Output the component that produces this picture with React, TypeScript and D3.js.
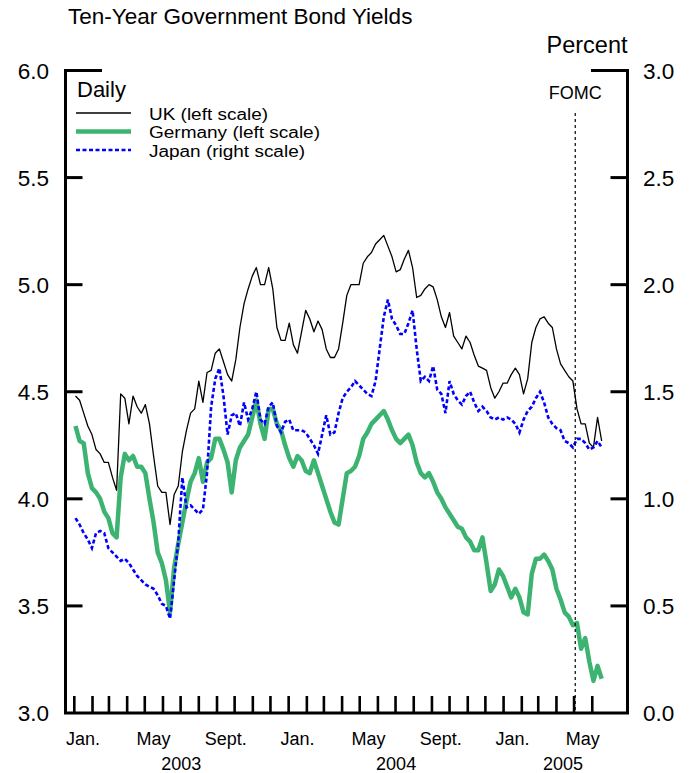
import React from "react";
import * as d3 from "d3";

// Weekly observations (Fridays) from 3 Jan 2003 to 17 Jun 2005
const weeks: Date[] = d3.timeFriday.range(new Date(2003, 0, 3), new Date(2005, 5, 18));

// UK ten-year yield (left scale, percent)
const ukValues = [
  4.48, 4.46, 4.40, 4.34, 4.30, 4.23, 4.21, 4.17, 4.17, 4.10,
  4.04, 4.49, 4.47, 4.35, 4.48, 4.43, 4.40, 4.44, 4.35, 4.20,
  4.06, 4.03, 4.03, 3.88, 4.02, 4.06, 4.22, 4.32, 4.40, 4.42,
  4.55, 4.45, 4.59, 4.60, 4.68, 4.70, 4.64, 4.58, 4.55, 4.65,
  4.80, 4.91, 4.98, 5.04, 5.08, 5.00, 5.00, 5.08, 4.98, 4.80,
  4.74, 4.74, 4.82, 4.72, 4.68, 4.78, 4.88, 4.84, 4.78, 4.83,
  4.79, 4.70, 4.66, 4.66, 4.70, 4.82, 4.95, 5.00, 5.00, 5.00,
  5.10, 5.13, 5.15, 5.19, 5.21, 5.23, 5.18, 5.13, 5.06, 5.07,
  5.12, 5.16, 5.08, 4.94, 4.95, 4.98, 5.00, 4.99, 4.93, 4.85,
  4.80, 4.87, 4.76, 4.73, 4.70, 4.76, 4.73, 4.67, 4.62, 4.61,
  4.60, 4.52, 4.47, 4.50, 4.54, 4.54, 4.58, 4.61, 4.58, 4.49,
  4.56, 4.73, 4.80, 4.84, 4.85, 4.82, 4.80, 4.70, 4.63, 4.60,
  4.57, 4.55, 4.42, 4.35, 4.35, 4.26, 4.24, 4.38, 4.27,
];

// Germany ten-year yield (left scale, percent)
const germanyValues = [
  4.34, 4.27, 4.26, 4.12, 4.05, 4.03, 4.00, 3.94, 3.91, 3.84,
  3.82, 4.10, 4.21, 4.18, 4.20, 4.15, 4.15, 4.12, 4.00, 3.89,
  3.75, 3.70, 3.62, 3.47, 3.68, 3.79, 3.89, 3.99, 4.08, 4.12,
  4.19, 4.08, 4.17, 4.19, 4.28, 4.28, 4.23, 4.17, 4.03, 4.18,
  4.24, 4.27, 4.30, 4.38, 4.46, 4.35, 4.28, 4.42, 4.42, 4.35,
  4.32, 4.25, 4.19, 4.15, 4.20, 4.18, 4.13, 4.12, 4.18, 4.12,
  4.06, 4.00, 3.94, 3.89, 3.88, 4.00, 4.12, 4.13, 4.15, 4.20,
  4.28, 4.31, 4.35, 4.37, 4.39, 4.41, 4.37, 4.32, 4.28, 4.26,
  4.28, 4.30, 4.25, 4.17, 4.12, 4.10, 4.12, 4.08, 4.03, 4.00,
  3.96, 3.93, 3.90, 3.87, 3.86, 3.82, 3.80, 3.76, 3.76, 3.82,
  3.70, 3.57, 3.60, 3.67, 3.64, 3.59, 3.54, 3.58, 3.54, 3.47,
  3.46, 3.65, 3.72, 3.72, 3.74, 3.71, 3.67, 3.58, 3.53, 3.47,
  3.45, 3.41, 3.42, 3.30, 3.35, 3.24, 3.15, 3.22, 3.16,
];

// Japan ten-year yield (right scale, percent)
const japanValues = [
  0.91, 0.88, 0.84, 0.81, 0.77, 0.84, 0.85, 0.84, 0.77, 0.75,
  0.73, 0.71, 0.72, 0.70, 0.67, 0.64, 0.62, 0.60, 0.59, 0.58,
  0.55, 0.51, 0.50, 0.44, 0.62, 0.80, 1.10, 0.96, 0.97, 0.95,
  0.93, 0.95, 1.12, 1.43, 1.56, 1.61, 1.48, 1.30, 1.39, 1.40,
  1.34, 1.45, 1.37, 1.42, 1.50, 1.37, 1.35, 1.43, 1.45, 1.34,
  1.31, 1.36, 1.37, 1.32, 1.32, 1.32, 1.31, 1.28, 1.25, 1.21,
  1.30, 1.39, 1.30, 1.31, 1.40, 1.47, 1.50, 1.52, 1.55, 1.53,
  1.51, 1.49, 1.48, 1.55, 1.70, 1.85, 1.93, 1.84, 1.81, 1.77,
  1.77, 1.82, 1.88, 1.70, 1.55, 1.57, 1.55, 1.62, 1.51, 1.49,
  1.40, 1.55, 1.49, 1.46, 1.44, 1.48, 1.50, 1.45, 1.41, 1.43,
  1.41, 1.38, 1.37, 1.38, 1.37, 1.38, 1.37, 1.35, 1.31, 1.37,
  1.41, 1.43, 1.47, 1.50, 1.45, 1.38, 1.35, 1.33, 1.32, 1.27,
  1.26, 1.24, 1.28, 1.28, 1.26, 1.23, 1.24, 1.27, 1.24,
];

const leftTicks = [3.0, 3.5, 4.0, 4.5, 5.0, 5.5, 6.0];
const rightTicks = [0.0, 0.5, 1.0, 1.5, 2.0, 2.5, 3.0];
const monthLabels = [
  { date: new Date(2003, 0, 16), label: "Jan." },
  { date: new Date(2003, 4, 16), label: "May" },
  { date: new Date(2003, 8, 16), label: "Sept." },
  { date: new Date(2004, 0, 16), label: "Jan." },
  { date: new Date(2004, 4, 16), label: "May" },
  { date: new Date(2004, 8, 16), label: "Sept." },
  { date: new Date(2005, 0, 16), label: "Jan." },
  { date: new Date(2005, 4, 16), label: "May" },
];
const yearLabels = [
  { date: new Date(2003, 6, 2), label: "2003" },
  { date: new Date(2004, 6, 2), label: "2004" },
  { date: new Date(2005, 3, 12), label: "2005" },
];
const legendItems = [
  { label: "UK (left scale)", color: "#000", width: 1.3, dash: "", textLen: 119 },
  { label: "Germany (left scale)", color: "#3cb371", width: 4.5, dash: "", textLen: 171 },
  { label: "Japan (right scale)", color: "#0000ff", width: 2.6, dash: "4,2.5", textLen: 156 },
];
const fomcDate = new Date(2005, 4, 3);

const FONT = "'Liberation Sans', Arial, Helvetica, sans-serif";
const GREEN = "#3cb371";
const BLUE = "#0000ff";

export default function App() {
  const W = 694;
  const H = 773;
  const left = 65.5;
  const right = 627.5;
  const top = 70.5;
  const bottom = 713;

  const x = d3
    .scaleTime()
    .domain([new Date(2002, 11, 17), new Date(2005, 6, 31)])
    .range([left, right]);
  const yL = d3.scaleLinear().domain([3, 6]).range([bottom, top]);
  const yR = d3.scaleLinear().domain([0, 3]).range([bottom, top]);

  const lineL = d3
    .line<number>()
    .x((_, i) => x(weeks[i]))
    .y((v) => yL(v));
  const lineR = d3
    .line<number>()
    .x((_, i) => x(weeks[i]))
    .y((v) => yR(v));

  const monthTicks = d3.timeMonth.range(new Date(2003, 0, 1), new Date(2005, 5, 2));
  const tickLen = 17;

  return (
    <svg width={W} height={H} style={{ position: "absolute", left: 0, top: 0, background: "#fff" }} fontFamily={FONT}>
      <rect x={0} y={0} width={W} height={H} fill="#fff" />
      {/* Title */}
      <text x={68} y={24} fontSize={22.5} fill="#000">
        Ten-Year Government Bond Yields
      </text>
      <text x={right} y={53} fontSize={23.5} textAnchor="end" fill="#000">
        Percent
      </text>

      {/* Series */}
      <path d={lineL(germanyValues) || ""} fill="none" stroke={GREEN} strokeWidth={4.5} strokeLinejoin="round" />
      <path d={lineL(ukValues) || ""} fill="none" stroke="#000" strokeWidth={1.3} strokeLinejoin="round" />
      <path d={lineR(japanValues) || ""} fill="none" stroke={BLUE} strokeWidth={2.6} strokeDasharray="4,2.5" />

      {/* FOMC marker */}
      <line x1={x(fomcDate)} x2={x(fomcDate)} y1={113} y2={bottom} stroke="#000" strokeWidth={1.2} strokeDasharray="3,3" />
      <text x={x(fomcDate)} y={99} fontSize={18} textAnchor="middle" fill="#000">
        FOMC
      </text>

      {/* Frame */}
      <path
        d={`M${left + 35},${top} H${left} V${bottom} H${right} V${top} H${right - 35}`}
        fill="none"
        stroke="#000"
        strokeWidth={3}
        strokeLinejoin="miter"
        strokeLinecap="square"
      />

      {/* Left ticks */}
      {leftTicks.map((t) => (
        <g key={"l" + t}>
          {t > 3 && t < 6 && (
            <line x1={left} x2={left + tickLen} y1={yL(t)} y2={yL(t)} stroke="#000" strokeWidth={3} />
          )}
          <text x={49} y={yL(t) + 8} fontSize={22.5} textAnchor="end" fill="#000">
            {t.toFixed(1)}
          </text>
        </g>
      ))}
      {/* Right ticks */}
      {rightTicks.map((t) => (
        <g key={"r" + t}>
          {t > 0 && t < 3 && (
            <line x1={right - tickLen} x2={right} y1={yR(t)} y2={yR(t)} stroke="#000" strokeWidth={3} />
          )}
          <text x={643} y={yR(t) + 8} fontSize={22.5} textAnchor="start" fill="#000">
            {t.toFixed(1)}
          </text>
        </g>
      ))}
      {/* Month ticks */}
      {monthTicks.map((m) => (
        <line key={m.toISOString()} x1={x(m)} x2={x(m)} y1={bottom} y2={bottom - tickLen} stroke="#000" strokeWidth={2.6} />
      ))}
      {monthLabels.map((m, i) => (
        <text key={"m" + i} x={x(m.date)} y={745} fontSize={18} textAnchor="middle" fill="#000">
          {m.label}
        </text>
      ))}
      {yearLabels.map((m, i) => (
        <text key={"y" + i} x={x(m.date)} y={770} fontSize={18} textAnchor="middle" fill="#000">
          {m.label}
        </text>
      ))}

      {/* Legend */}
      <text x={77} y={97} fontSize={22} fill="#000">
        Daily
      </text>
      {legendItems.map((it, i) => (
        <g key={it.label}>
          <line
            x1={76}
            x2={131}
            y1={113 + i * 18.5}
            y2={113 + i * 18.5}
            stroke={it.color}
            strokeWidth={it.width}
            strokeDasharray={it.dash || undefined}
          />
          <text
            x={149}
            y={119.5 + i * 18.5}
            fontSize={16}
            textLength={it.textLen}
            lengthAdjust="spacingAndGlyphs"
            fill="#000"
          >
            {it.label}
          </text>
        </g>
      ))}
    </svg>
  );
}
